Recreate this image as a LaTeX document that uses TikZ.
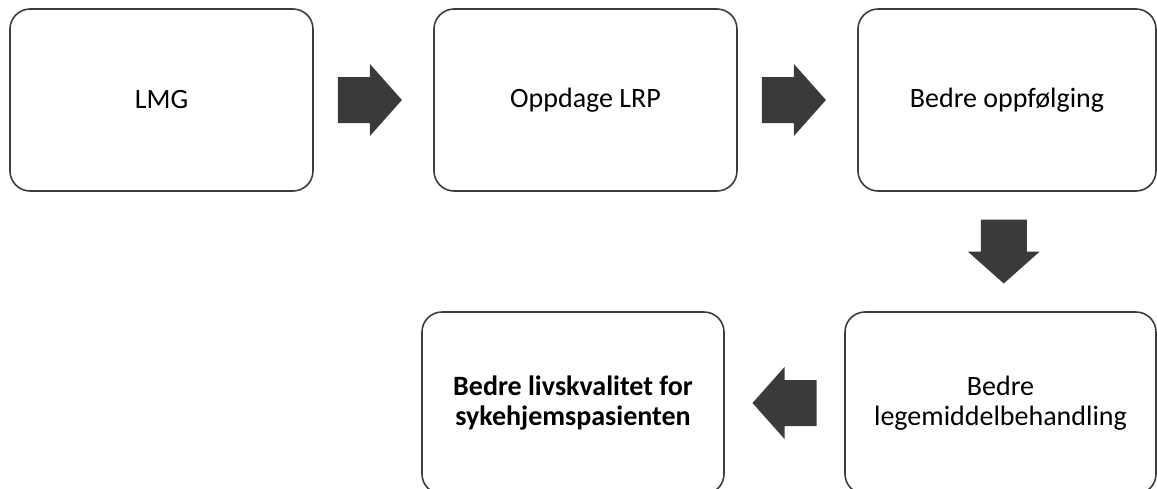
\documentclass[tikz,border=0pt]{standalone}
\usepackage{fontspec}
\setmainfont{Carlito}
\usetikzlibrary{calc}

\definecolor{boxline}{HTML}{3C3C3C}
\definecolor{arrowgray}{HTML}{3A3A3A}

\tikzset{
  stepbox/.style={draw=boxline, line width=1.6pt, rounded corners=20pt,
    minimum width=303pt, minimum height=182pt, inner sep=0pt,
    align=center, font=\fontsize{28}{30}\selectfont},
  bigarrow/.pic={
    \fill[arrowgray] (-32,-23) -- (0,-23) -- (0,-36) -- (32,0) -- (0,36) -- (0,23) -- (-32,23) -- cycle;
  }
}

\begin{document}
\begin{tikzpicture}[x=1pt, y=-1pt]
  \useasboundingbox (0,0) rectangle (1157,488);

  % top row
  \node [stepbox] (lmg) at (161.5,100) {LMG};
  \node [stepbox] (lrp) at (585.5,100) {Oppdage LRP};
  \node [stepbox, minimum width=298pt] (opp) at (1007,100) {Bedre oppfølging};

  % bottom row
  \node [stepbox, minimum width=311pt] (leg) at (1000.5,403) {Bedre\\legemiddelbehandling};
  \node [stepbox, minimum width=302pt, font=\fontsize{28}{30}\selectfont\bfseries] (liv) at (573,403) {Bedre livskvalitet for\\sykehjemspasienten};

  % block arrows between the boxes
  \pic at ($(lmg.east)!0.47!(lrp.west)$) {bigarrow};
  \pic at ($(lrp.east)!0.47!(opp.west)$) {bigarrow};
  \pic [rotate=-90] at ($(opp.south)!0.5!(leg.north)$) {bigarrow};
  \pic [rotate=180] at ($(leg.west)!0.5!(liv.east)$) {bigarrow};

\end{tikzpicture}
\end{document}
